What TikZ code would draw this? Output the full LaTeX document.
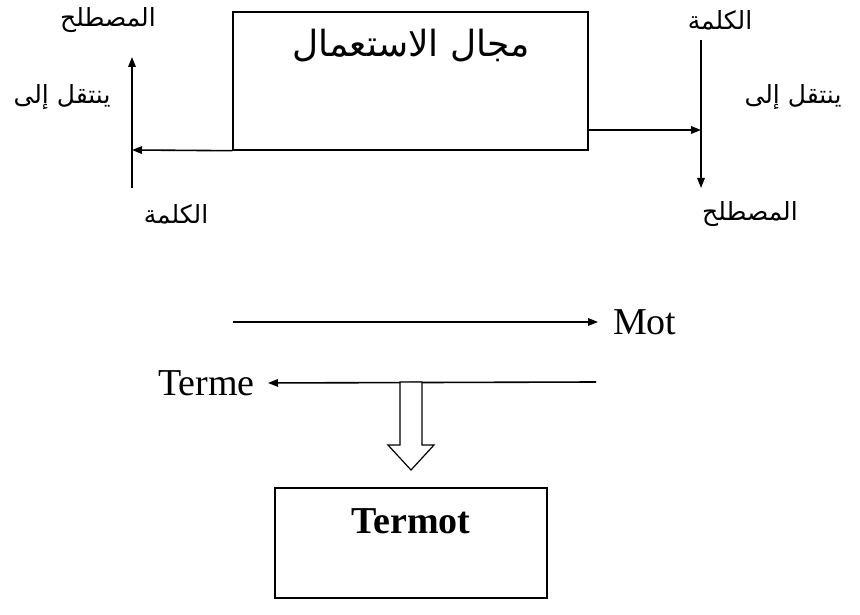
\documentclass[tikz,border=0pt]{standalone}
\usepackage{fontspec}
\setmainfont{Liberation Serif}
\newfontfamily\arabicfont[Script=Arabic]{DejaVu Sans}
\TeXXeTstate=1
\usetikzlibrary{arrows.meta}
\begin{document}
\begin{tikzpicture}[x=1pt,y=-1pt,
  box/.style={draw, line width=1.4pt, inner sep=0pt},
  arr/.style={line width=1.6pt, -{Triangle[length=10pt,width=7.5pt]}},
  artext/.style={font=\arabicfont\fontsize{25}{30}\selectfont, inner sep=1pt},
  latin/.style={font=\fontsize{38}{44}\selectfont, inner sep=1pt}]
\useasboundingbox (0,0) rectangle (860,615);

% usage-field box
\node[box, minimum width=355pt, minimum height=138pt] (use) at (410.5,81) {};
\node[font=\arabicfont\fontsize{36}{40}\selectfont] (usetitle) at (411,46) {\beginR مجال الاستعمال\endR};

% left side: word becomes term
\coordinate (lbot) at (132,188);
\coordinate (ltop) at (132,57);
\coordinate (ljoin) at (132,150);
\draw[arr] (lbot) -- (ltop);
\draw[arr] (use.south west) -- (ljoin);
\node[artext] (lterm) at (108,20) {\beginR المصطلح\endR};
\node[artext] (lgoes) at (62,97) {\beginR ينتقل إلى\endR};
\node[artext] (lword) at (176,214) {\beginR الكلمة\endR};

% right side: word becomes term
\coordinate (rtop) at (701,40);
\coordinate (rbot) at (701,188);
\coordinate (rjoin) at (701,130);
\draw[arr] (rtop) -- (rbot);
\draw[arr] (use.east |- rjoin) -- (rjoin);
\node[artext] (rword) at (720,20) {\beginR الكلمة\endR};
\node[artext] (rgoes) at (793,97) {\beginR ينتقل إلى\endR};
\node[artext] (rterm) at (750,214) {\beginR المصطلح\endR};

% Mot / Terme
\node[latin, anchor=west] (mot) at (612,322) {Mot};
\coordinate (motstart) at (233,322);
\draw[arr, shorten >=14pt] (motstart) -- (mot.west);
\node[latin, anchor=east] (terme) at (256,383) {Terme};
\coordinate (termestart) at (596,382);
\draw[arr, shorten >=12pt] (termestart) -- (terme.east);

% Termot box
\node[box, minimum width=272pt, minimum height=110pt] (termot) at (411,543) {};
\node[font=\bfseries\fontsize{38}{44}\selectfont] (termottext) at (411,521) {Termot};

% hollow block arrow down to the Termot box
\draw[line width=1.2pt, fill=white]
  (400,382) -- (422,382) -- (422,445) -- (434,445) -- (411,470)
  -- (388,445) -- (400,445) -- cycle;
\end{tikzpicture}
\end{document}
